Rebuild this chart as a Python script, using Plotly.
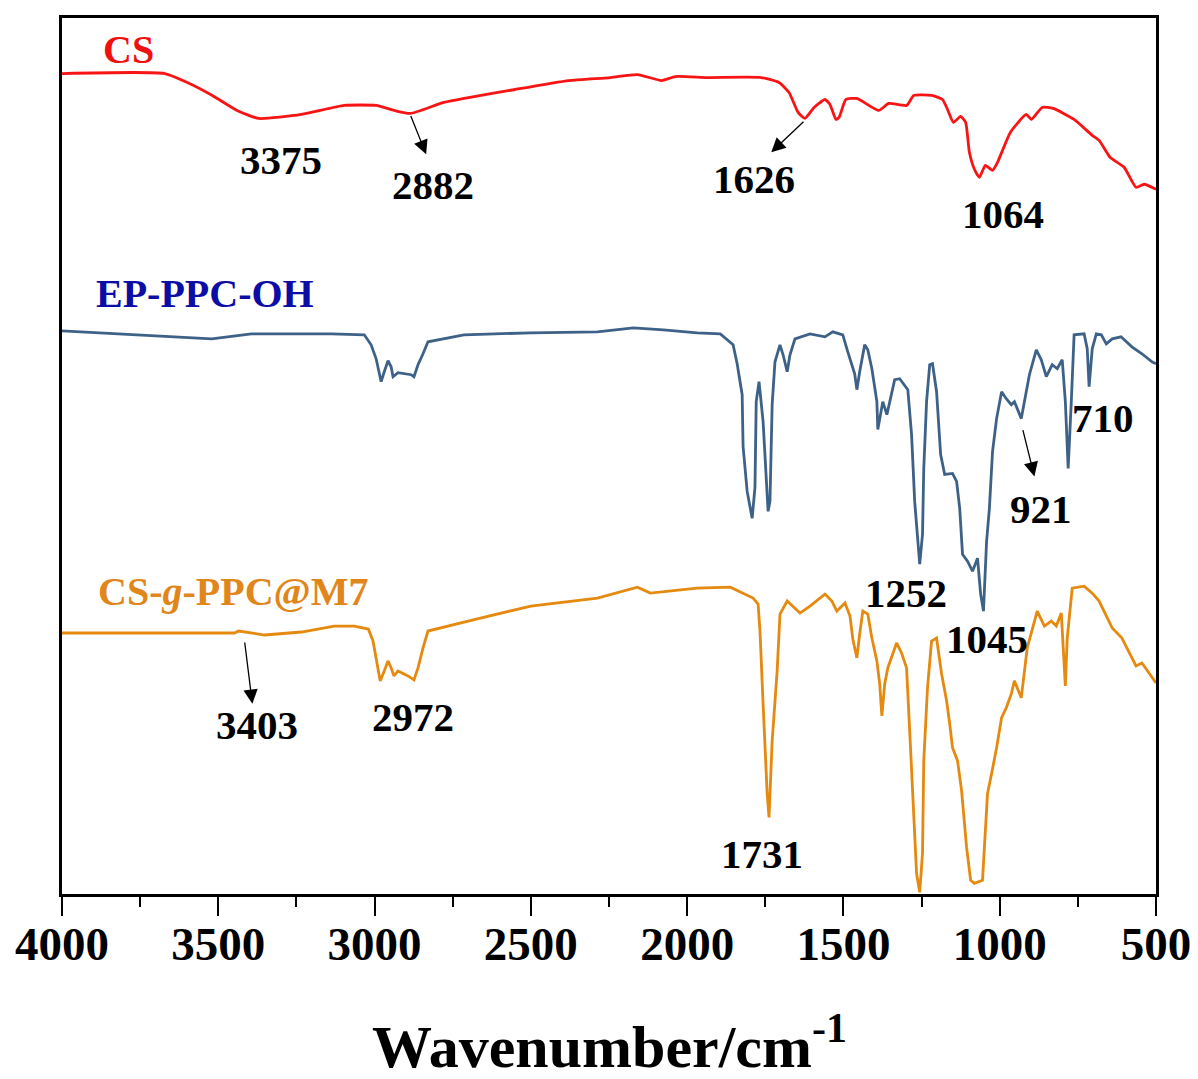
import plotly.graph_objects as go

# ---------------- data (wavenumber cm-1, transmittance a.u. with offsets) ----------------
cs_wn = [4000, 3671, 3599, 3519, 3440, 3371, 3234, 3097, 2995, 2937, 2885, 2778, 2551, 2379, 2245,
         2159, 2082, 2038, 1936, 1763, 1706, 1674, 1645, 1623, 1594, 1559, 1543, 1524, 1514, 1492,
         1457, 1387, 1355, 1298, 1275, 1218, 1183, 1167, 1148, 1125, 1109, 1097, 1081, 1065, 1046,
         1023, 1007, 966, 915, 899, 864, 829, 762, 704, 682, 647, 602, 564, 538, 500]
cs_t = [829, 829, 820, 807, 792, 784, 788, 797, 797, 792, 789, 800, 813, 822, 825,
        828, 822, 826, 825, 825, 820, 810, 790, 784, 795, 803, 798, 783, 785, 803,
        804, 792, 799, 797, 807, 807, 803, 793, 780, 786, 780, 750, 733, 725, 737,
        732, 740, 770, 788, 783, 795, 794, 783, 767, 762, 745, 735, 715, 718, 713]

ep_wn = [4000, 3521, 3394, 3139, 3033, 3011, 2995, 2979, 2969, 2957, 2947, 2941, 2925, 2883, 2874,
         2861, 2845, 2829, 2714, 2500, 2287, 2172, 2076, 1968, 1894, 1853, 1840, 1824, 1821, 1808,
         1792, 1783, 1779, 1770, 1757, 1744, 1741, 1735, 1728, 1719, 1703, 1693, 1680, 1671, 1655,
         1607, 1559, 1534, 1502, 1486, 1464, 1457, 1448, 1432, 1422, 1409, 1393, 1390, 1374, 1361,
         1352, 1336, 1320, 1294, 1282, 1272, 1256, 1247, 1243, 1234, 1224, 1215, 1202, 1189, 1176,
         1151, 1138, 1128, 1119, 1103, 1087, 1071, 1061, 1052, 1042, 1033, 1023, 1010, 994, 979,
         963, 953, 931, 905, 883, 867, 851, 832, 816, 800, 790, 781, 771, 762, 730,
         720, 714, 704, 691, 675, 659, 640, 612, 577, 545, 513, 500]
ep_t = [571, 563, 568, 568, 567, 557, 543, 520, 530, 541, 535, 525, 529, 527, 525,
        537, 548, 560, 567, 569, 570, 574, 572, 569, 568, 557, 538, 507, 455, 410,
        383, 414, 500, 520, 480, 407, 390, 400, 497, 540, 557, 547, 530, 547, 563,
        568, 565, 570, 567, 550, 528, 512, 530, 557, 552, 533, 500, 472, 500, 487,
        500, 522, 523, 512, 467, 400, 337, 367, 433, 500, 537, 538, 510, 447, 427,
        428, 420, 393, 347, 340, 330, 343, 307, 290, 360, 393, 450, 483, 510, 503,
        497, 500, 483, 527, 552, 542, 525, 537, 533, 542, 500, 433, 500, 567, 568,
        553, 515, 553, 568, 567, 558, 563, 565, 555, 548, 540, 538]

m7_wn = [4000, 3448, 3435, 3352, 3234, 3129, 3065, 3020, 3005, 2995, 2982, 2969, 2957, 2947, 2938,
         2925, 2893, 2874, 2861, 2845, 2829, 2701, 2596, 2500, 2287, 2159, 2118, 1968, 1862, 1821,
         1789, 1773, 1767, 1757, 1744, 1738, 1728, 1712, 1703, 1680, 1639, 1607, 1559, 1537, 1521,
         1495, 1479, 1470, 1457, 1448, 1438, 1422, 1409, 1393, 1384, 1377, 1368, 1358, 1330, 1314,
         1298, 1288, 1279, 1266, 1256, 1247, 1243, 1231, 1218, 1202, 1186, 1170, 1160, 1151, 1135,
         1122, 1106, 1093, 1081, 1055, 1049, 1039, 1026, 1010, 994, 979, 963, 953, 931, 912,
         880, 857, 835, 819, 803, 797, 790, 784, 768, 730, 704, 682, 640, 609, 564,
         545, 500]
m7_t = [268, 268, 270, 266, 269, 275, 275, 272, 260, 243, 220, 230, 240, 233, 225,
        230, 225, 221, 233, 253, 270, 280, 288, 295, 303, 314, 308, 313, 314, 308,
        303, 297, 270, 197, 107, 83, 160, 230, 287, 300, 288, 295, 307, 300, 290,
        298, 285, 262, 243, 267, 290, 287, 263, 240, 217, 185, 217, 233, 258, 248,
        233, 170, 107, 27, 8, 47, 140, 213, 260, 263, 227, 200, 177, 153, 140,
        110, 53, 20, 17, 20, 53, 107, 127, 153, 183, 193, 207, 220, 203, 253,
        290, 275, 280, 275, 288, 247, 215, 263, 313, 315, 308, 300, 273, 263, 235,
        238, 218]

series_names = ["CS", "EP-PPC-OH", "CS-<i>g</i>-PPC@M7"]
line_colors = ["#F81414", "#3E6287", "#E5890F"]
label_colors = ["#F01010", "#0C0CA6", "#E0861A"]
line_shapes = ["spline", "linear", "linear"]

# peak labels: text, wavenumber, level
peak_text = ["3375", "2882", "1626", "1064", "921", "710", "1252", "1045", "3403", "2972", "1731"]
peak_wn = [3298, 2813, 1786, 991, 867, 669, 1301, 1042, 3375, 2877, 1760]
peak_lvl = [742, 717, 723, 688, 392, 484, 308, 262, 176, 184, 46]

# arrows: tail (wn, level) -> head (wn, level)
arrow_tail_wn = [2886, 1623, 927, 3416]
arrow_tail_lvl = [788, 782, 473, 260]
arrow_head_wn = [2835, 1731, 889, 3391]
arrow_head_lvl = [748, 750, 425, 197]

# series name labels
name_wn = [3786, 3544, 3451]
name_lvl = [853, 608, 310]

FONT = "Liberation Serif, Times New Roman, serif"

fig = go.Figure()
for wn, t, c, n, sh in zip([cs_wn, ep_wn, m7_wn], [cs_t, ep_t, m7_t], line_colors,
                           series_names, line_shapes):
    assert len(wn) == len(t)
    line = dict(color=c, width=2.8, shape=sh)
    if sh == "spline":
        line["smoothing"] = 0.5
    fig.add_trace(go.Scatter(x=wn, y=t, mode="lines", name=n, line=line, hoverinfo="skip"))

ann = []
for txt, x, y, c in zip(series_names, name_wn, name_lvl, label_colors):
    ann.append(dict(x=x, y=y, xref="x", yref="y", text=txt, showarrow=False,
                    font=dict(family=FONT, size=40, color=c, weight="bold"),
                    xanchor="center", yanchor="middle"))
for txt, x, y in zip(peak_text, peak_wn, peak_lvl):
    ann.append(dict(x=x, y=y, xref="x", yref="y", text=txt, showarrow=False,
                    font=dict(family=FONT, size=41, color="black", weight="bold"),
                    xanchor="center", yanchor="middle"))
for tx, ty, hx, hy in zip(arrow_tail_wn, arrow_tail_lvl, arrow_head_wn, arrow_head_lvl):
    ann.append(dict(x=hx, y=hy, ax=tx, ay=ty, xref="x", yref="y", axref="x", ayref="y",
                    text="", showarrow=True, arrowhead=2, arrowsize=2.2, arrowwidth=1.3,
                    arrowcolor="black"))
ann.append(dict(x=0.5, y=-0.169, xref="paper", yref="paper",
                text="<b>Wavenumber/cm<sup>-1</sup></b>", showarrow=False,
                font=dict(family=FONT, size=60, color="black"),
                xanchor="center", yanchor="middle"))

fig.update_layout(
    width=1190, height=1071,
    margin=dict(l=53, r=42, t=7, b=185),
    paper_bgcolor="white", plot_bgcolor="white",
    showlegend=False,
    annotations=ann,
    xaxis=dict(range=[4000, 500], tickvals=[4000, 3500, 3000, 2500, 2000, 1500, 1000, 500],
               ticks="outside", ticklen=19, tickwidth=2.2, tickcolor="black",
               showline=True, linecolor="black", linewidth=2.6, mirror=True,
               showgrid=False, zeroline=False, ticklabelstandoff=-12,
               tickfont=dict(family=FONT, size=47, color="black", weight="bold"),
               minor=dict(tickvals=[3750, 3250, 2750, 2250, 1750, 1250, 750],
                          ticks="outside", ticklen=10, tickwidth=2.2, tickcolor="black",
                          showgrid=False)),
    yaxis=dict(range=[6.3, 884.7], showticklabels=False, ticks="",
               showline=True, linecolor="black", linewidth=2.6, mirror=True,
               showgrid=False, zeroline=False),
)

fig.write_html("out.html")
